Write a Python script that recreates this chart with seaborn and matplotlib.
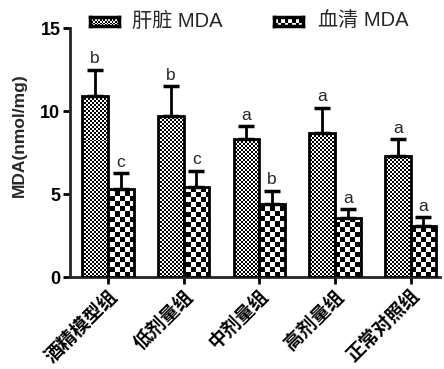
import numpy as np
import pandas as pd
import matplotlib
matplotlib.use('Agg')
import matplotlib.pyplot as plt
import seaborn as sns

# --- data ---
groups = ['酒精模型组', '低剂量组', '中剂量组', '高剂量组', '正常对照组']
series = ['肝脏 MDA', '血清 MDA']
liver_mean = [10.9, 9.7, 8.3, 8.7, 7.3]
liver_err = [1.6, 1.8, 0.8, 1.5, 1.0]
serum_mean = [5.3, 5.4, 4.4, 3.55, 3.1]
serum_err = [0.95, 1.0, 0.8, 0.55, 0.5]
liver_sig = ['b', 'b', 'a', 'a', 'a']
serum_sig = ['c', 'c', 'b', 'a', 'a']
yticks = [0, 5, 10, 15]

sns.set_style('ticks')
plt.rcParams['font.family'] = ['Liberation Sans', 'Noto Sans CJK SC', 'DejaVu Sans']


def checker(cell, w_px, h_px):
    ny, nx = int(round(h_px / cell)), int(round(w_px / cell))
    return np.indices((ny, nx)).sum(0) % 2


df = pd.DataFrame({
    'group': groups * 2,
    'series': [series[0]] * 5 + [series[1]] * 5,
    'mda': liver_mean + serum_mean,
})

fig = plt.figure(figsize=(4.44, 3.69), dpi=100)
ax = fig.add_axes([0.158, 0.249, 0.833, 0.675])
ax_w, ax_h = 0.833 * 444, 0.675 * 369

sns.barplot(data=df, x='group', y='mda', hue='series', palette=['white', 'white'],
            width=0.68, gap=0, edgecolor='black', linewidth=2, errorbar=None,
            legend=False, ax=ax)

cells = [2, 5]
means = [liver_mean, serum_mean]
errs = [liver_err, serum_err]
sigs = [liver_sig, serum_sig]
bar_conts = list(ax.containers)
for i, cont in enumerate(bar_conts):
    xs = []
    for bar in cont:
        im = ax.imshow(checker(cells[i], ax_w, ax_h), cmap='gray', extent=(0, 1, 0, 1),
                       transform=ax.transAxes, interpolation='nearest', aspect='auto', zorder=1)
        im.set_clip_path(bar)
        bar.set_facecolor('none')
        bar.set_zorder(3)
        xs.append(bar.get_x() + bar.get_width() / 2)
    ax.errorbar(xs, means[i], yerr=[np.zeros(5), errs[i]], fmt='none', ecolor='black',
                elinewidth=2, capsize=5.5, capthick=2.5, zorder=4)
    for x, m, e, s in zip(xs, means[i], errs[i], sigs[i]):
        ax.annotate(s, (x, m + e), xytext=(0, 2.5), textcoords='offset points',
                    ha='center', va='bottom', fontsize=12.5)

ax.set_xlim(-0.5, 4.39)
ax.set_ylim(0, 15)
ax.set_yticks(yticks)
ax.set_yticklabels([str(t) for t in yticks], fontweight='bold', fontsize=13)
ax.set_xticks(range(len(groups)))
ax.set_xticklabels(groups, rotation=45, ha='right', va='top', rotation_mode='anchor',
                   fontweight='bold', fontsize=13.5)
ax.set_xlabel('')
ax.set_ylabel('MDA(nmol/mg)', fontweight='bold', fontsize=12.5)
ax.yaxis.set_label_coords(-0.118, 0.57)
for sp in ['top', 'right']:
    ax.spines[sp].set_visible(False)
for sp in ['left', 'bottom']:
    ax.spines[sp].set_linewidth(2)
ax.tick_params(width=2, length=5, direction='out', colors='black', pad=2)

# legend drawn by hand so the checker fills match the bars
leg_x = [90, 274]
leg_cells = [1.6, 3.5]
text_x = [132, 318]
for i in range(2):
    lax = fig.add_axes([leg_x[i] / 444, 1 - 26 / 369, 29 / 444, 9 / 369])
    lax.imshow(checker(leg_cells[i], 29, 9), cmap='gray', aspect='auto', interpolation='nearest')
    lax.set_xticks([])
    lax.set_yticks([])
    for sp in lax.spines.values():
        sp.set_linewidth(2.5)
        sp.set_color('black')
    fig.text(text_x[i] / 444, 1 - 21 / 369, series[i], fontsize=14.5, va='center', ha='left')

fig.savefig('out.png', dpi=100)
